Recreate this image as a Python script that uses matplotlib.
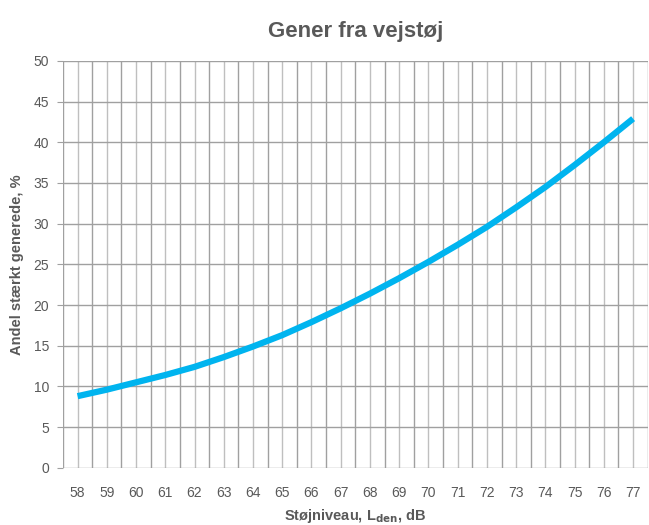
import matplotlib
matplotlib.use("Agg")
import matplotlib.pyplot as plt
import numpy as np

plt.rcParams['font.family'] = ['Liberation Sans', 'DejaVu Sans']

# støjniveau (dB) og andel stærkt generede (%)
niveau = [58, 59, 60, 61, 62, 63, 64, 65, 66, 67, 68, 69, 70, 71, 72, 73, 74, 75, 76, 77]
andel = [8.8, 9.6, 10.5, 11.4, 12.4, 13.6, 14.9, 16.3, 17.9, 19.6,
         21.4, 23.3, 25.3, 27.4, 29.6, 32.0, 34.5, 37.2, 40.0, 42.9]
y_ticks = [0, 5, 10, 15, 20, 25, 30, 35, 40, 45, 50]

grey = '#595959'
fig = plt.figure(figsize=(6.49, 5.25), dpi=100)
ax = fig.add_axes([0.097, 0.109, 0.901, 0.775])

x = np.arange(len(niveau))
# grid: category centres (light) and boundaries (darker)
for i in x:
    ax.axvline(i, color='#bfbfbf', lw=1.0, zorder=1)
for i in np.arange(-0.5, len(niveau), 1.0):
    ax.axvline(i, color='#a0a0a0', lw=1.0, zorder=1)
for t in y_ticks:
    ax.axhline(t, color='#a0a0a0', lw=1.0, zorder=1)

ax.plot(x, andel, color='#00b4ef', lw=4.5, solid_capstyle='butt', zorder=3)

ax.set_xlim(-0.5, len(niveau) - 0.5)
ax.set_ylim(0, 50)
ax.set_xticks(x)
ax.set_xticklabels([str(n) for n in niveau])
ax.set_yticks(y_ticks)
ax.tick_params(axis='x', length=0, pad=13, labelsize=10, colors=grey)
ax.tick_params(axis='y', length=4, color='#a0a0a0', pad=6, labelsize=10, colors=grey)
for s in ax.spines.values():
    s.set_visible(False)

ax.set_title('Gener fra vejstøj', fontsize=16, fontweight='bold', color=grey, pad=17)
ax.set_ylabel('Andel stærkt generede, %', fontsize=10.5, fontweight='bold', color=grey, labelpad=7)
ax.set_xlabel(r'Støjniveau, L$_\mathbf{den}$, dB', fontsize=10.5, fontweight='bold', color=grey, labelpad=5)

fig.savefig('out.png', dpi=100)
